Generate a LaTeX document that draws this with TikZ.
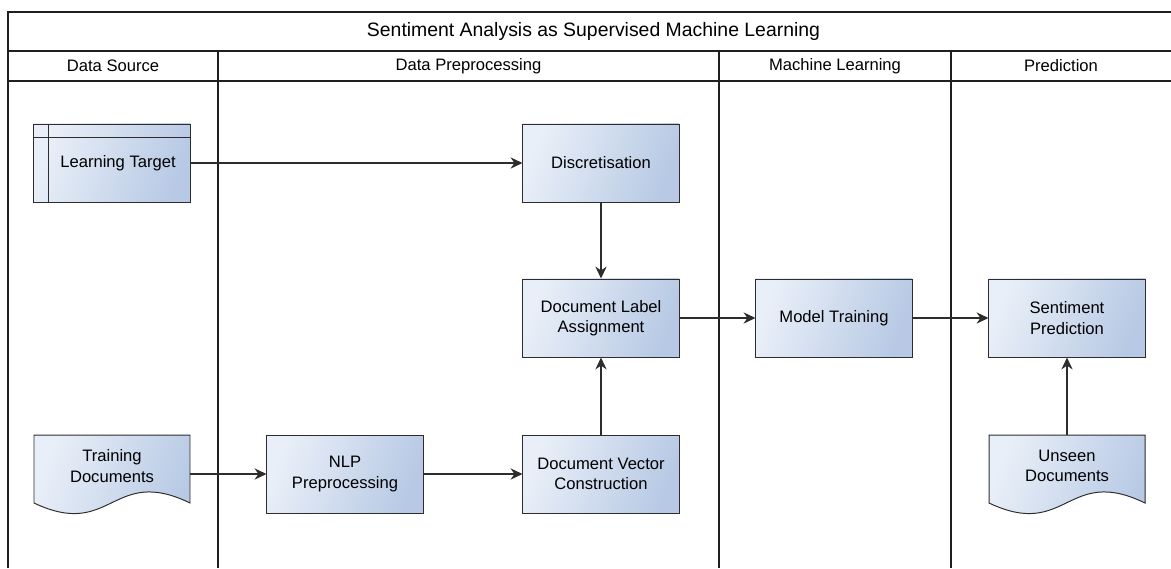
\documentclass[tikz,border=0pt]{standalone}
\usepackage{fontspec}
\setmainfont{Liberation Sans}
\usetikzlibrary{arrows.meta}
\definecolor{boxLight}{RGB}{233,239,248}
\definecolor{boxDark}{RGB}{183,201,228}
\definecolor{edgeGray}{RGB}{45,45,45}
\tikzstyle{processBox}=[shape = rectangle, minimum width = 3.9cm, minimum height = 1.95cm, inner sep = 0pt, align = center, draw = edgeGray, line width = 0.7pt, top color = boxLight, bottom color = boxDark, shading angle = 70]
\tikzstyle{docFrame}=[shape = rectangle, minimum width = 3.9cm, minimum height = 1.95cm, inner sep = 0pt]
\tikzstyle{docFill}=[draw = edgeGray, line width = 0.7pt, top color = boxLight, bottom color = boxDark, shading angle = 70]

\begin{document}
\begin{tikzpicture}[x = 0.025cm, y = -0.025cm]
\tikzstyle{every node}=[font = \fontsize{11.8}{14.6}\selectfont]
\tikzstyle{laneLine}=[line width = 1.1pt, draw = black!88]
\tikzstyle{flowArrow}=[line width = 0.8pt, draw = edgeGray, -{Stealth[length = 8.5pt, width = 8pt]}]
\tikzstyle{labelText}=[align = center, inner sep = 0pt]
\useasboundingbox (0,0) rectangle (1171,568);
% swimlane frame
\draw[laneLine] (8,568) -- (8,12) -- (1171,12);
\draw[laneLine] (8,51) -- (1171,51);
\draw[laneLine] (8,81) -- (1171,81);
\foreach \lx in {218, 719, 951}
  \draw[laneLine] (\lx,51) -- (\lx,568);
\node[labelText, font = \fontsize{13.8}{16}\selectfont] (title) at (593.5,31) {Sentiment Analysis as Supervised Machine Learning};
\node[labelText] (laneSource) at (113,66) {Data Source};
\node[labelText] (lanePrep) at (468.5,66) {Data Preprocessing};
\node[labelText] (laneLearn) at (835,66) {Machine Learning};
\node[labelText] (lanePred) at (1061,66) {Prediction};
% document shapes
\foreach \cx in {112, 1067} {
  \begin{scope}[shift = {(\cx,474)}]
  \path[docFill] (-78,-39) -- (78,-39) -- (78,29) .. controls (0,-9) and (0,66) .. (-78,29) -- cycle;
  \end{scope}
}
% learning target (internal storage)
\node[processBox] (lt) at (112,163) {};
\begin{scope}[shift = {(112,163)}]
\draw[edgeGray, line width = 0.7pt] (-64,-39) -- (-64,39);
\draw[edgeGray, line width = 0.7pt] (-78,-26) -- (78,-26);
\end{scope}
\node[labelText] (ltText) at (118,163) {Learning Target};
\node[docFrame] (td) at (112,474) {};
\node[labelText] (tdText) at (112,466) {Training\\Documents};
\node[docFrame] (ud) at (1067,474) {};
\node[labelText] (udText) at (1067,466) {Unseen\\Documents};
\node[processBox] (disc) at (601,163) {Discretisation};
\node[processBox] (dla) at (601,318) {Document Label\\Assignment};
\node[processBox] (nlp) at (345,474) {NLP\\Preprocessing};
\node[processBox] (dvc) at (601,474) {Document Vector\\Construction};
\node[processBox] (mt) at (834,318) {Model Training};
\node[processBox] (sp) at (1067,318) {Sentiment\\Prediction};
% flows
\draw[flowArrow] (lt) -- (disc);
\draw[flowArrow] (disc) -- (dla);
\draw[flowArrow] (td) -- (nlp);
\draw[flowArrow] (nlp) -- (dvc);
\draw[flowArrow] (dvc) -- (dla);
\draw[flowArrow] (dla) -- (mt);
\draw[flowArrow] (mt) -- (sp);
\draw[flowArrow] (ud) -- (sp);
\end{tikzpicture}
\end{document}
